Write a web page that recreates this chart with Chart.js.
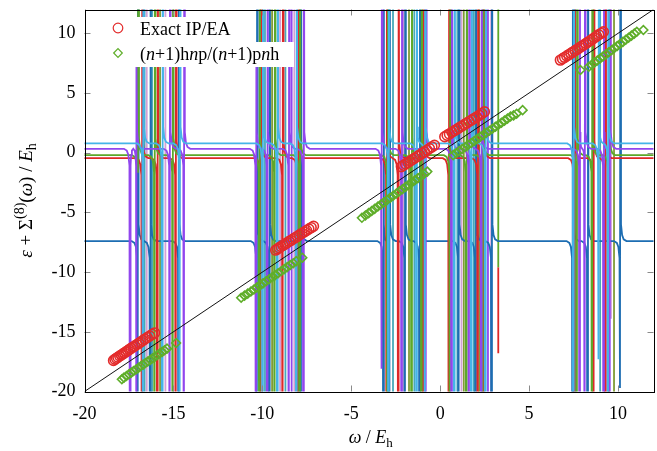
<!DOCTYPE html>
<html>
<head>
<meta charset="utf-8">
<script src="https://cdn.jsdelivr.net/npm/chart.js@4.4.1/dist/chart.umd.min.js"></script>
<style>
  html, body { margin: 0; padding: 0; background: #fff; overflow: hidden; }
  #wrap { width: 657px; height: 451px; overflow: hidden; }
</style>
</head>
<body>
<div id="wrap"><canvas id="chart" width="660" height="451"></canvas></div>
<script>
const serif = '"Liberation Serif", "Times New Roman", serif';

const xTicks = [-20, -15, -10, -5, 0, 5, 10];
const yTicks = [-20, -15, -10, -5, 0, 5, 10];

// exact IP/EA solutions (red circles)
const exactX = [
  -18.37, -18.29, -18.2, -18.12, -18.02, -17.93, -17.85, -17.76, -17.66, -17.57, -17.47, -17.38,
  -17.27, -17.17, -17.06, -16.95, -16.84, -16.72, -16.6, -16.47, -16.33, -16.2, -16.06,
  -9.25, -9.15, -9.05, -8.95, -8.84, -8.73, -8.62, -8.5, -8.39, -8.27, -8.15, -8.02, -7.9,
  -7.77, -7.64, -7.51, -7.38, -7.25, -7.12,
  -2.18, -2.06, -1.94, -1.81, -1.68, -1.55, -1.42, -1.28, -1.15, -1.01, -0.88, -0.74, -0.6,
  -0.46, -0.32, 0.26, 0.39, 0.52, 0.66, 0.8, 0.94, 1.07, 1.21, 1.35, 1.49, 1.63, 1.77, 1.91,
  2.05, 2.2, 2.34, 2.49,
  6.76, 6.88, 7.0, 7.12, 7.24, 7.36, 7.48, 7.6, 7.72, 7.84, 7.96, 8.08, 8.2, 8.32, 8.44, 8.56,
  8.68, 8.8, 8.92, 9.05, 9.18
];
const exactY = [
  -17.4, -17.3, -17.22, -17.13, -17.03, -16.95, -16.86, -16.77, -16.67, -16.58, -16.47, -16.38,
  -16.28, -16.18, -16.07, -15.96, -15.85, -15.73, -15.61, -15.48, -15.35, -15.22, -15.09,
  -8.16, -8.06, -7.96, -7.86, -7.76, -7.66, -7.55, -7.44, -7.34, -7.22, -7.11, -6.99, -6.87,
  -6.75, -6.63, -6.51, -6.39, -6.27, -6.16,
  -1.17, -1.05, -0.94, -0.82, -0.69, -0.57, -0.44, -0.31, -0.18, -0.05, 0.08, 0.22, 0.35,
  0.49, 0.63, 1.34, 1.46, 1.58, 1.71, 1.84, 1.97, 2.09, 2.22, 2.35, 2.48, 2.61, 2.74, 2.87,
  3.0, 3.14, 3.28, 3.43,
  7.76, 7.88, 7.99, 8.11, 8.22, 8.34, 8.45, 8.57, 8.68, 8.8, 8.92, 9.03, 9.15, 9.27, 9.39, 9.51,
  9.63, 9.76, 9.88, 10.0, 10.13
];

// (n+1)hnp/(n+1)pnh solutions (green diamonds)
const hnpX = [
  -17.9, -17.78, -17.64, -17.5, -17.37, -17.24, -17.1, -16.97, -16.84, -16.7, -16.57, -16.44,
  -16.3, -16.17, -16.04, -15.9, -15.77, -15.63, -15.5, -15.36, -14.85,
  -11.19, -11.0, -10.82, -10.64, -10.47, -10.3, -10.13, -9.96, -9.79, -9.62, -9.45, -9.28,
  -9.11, -8.94, -8.77, -8.6, -8.43, -8.26, -8.09, -7.75,
  -4.4, -4.2, -4.02, -3.85, -3.68, -3.5, -3.33, -3.16, -2.98, -2.81, -2.64, -2.46, -2.29,
  -2.12, -1.94, -1.77, -1.6, -1.42, -1.25, -1.08, -0.9, -0.72, 0.73, 0.9, 1.07, 1.24, 1.41,
  1.58, 1.75, 1.92, 2.09, 2.26, 2.43, 2.6, 2.77, 2.94, 3.11, 3.28, 3.45, 3.62, 3.79, 3.96,
  4.13, 4.3, 4.64,
  7.89, 8.36, 8.52, 8.68, 8.84, 9.0, 9.16, 9.32, 9.48, 9.64, 9.8, 9.96, 10.12, 10.28, 10.44,
  10.6, 10.76, 10.92, 11.06, 11.43
];
const hnpY = [
  -18.97, -18.84, -18.7, -18.56, -18.42, -18.29, -18.15, -18.02, -17.89, -17.75, -17.62, -17.49,
  -17.35, -17.22, -17.09, -16.95, -16.82, -16.68, -16.55, -16.41, -15.94,
  -12.15, -11.97, -11.8, -11.62, -11.45, -11.28, -11.11, -10.94, -10.77, -10.6, -10.43, -10.26,
  -10.09, -9.92, -9.75, -9.58, -9.41, -9.25, -9.08, -8.79,
  -5.45, -5.25, -5.06, -4.88, -4.7, -4.51, -4.33, -4.15, -3.96, -3.78, -3.6, -3.41, -3.23,
  -3.05, -2.86, -2.68, -2.5, -2.31, -2.13, -1.95, -1.76, -1.58, -0.2, -0.03, 0.14, 0.31, 0.48,
  0.65, 0.82, 0.99, 1.16, 1.33, 1.5, 1.67, 1.84, 2.01, 2.18, 2.35, 2.52, 2.69, 2.86, 3.03,
  3.13, 3.27, 3.57,
  6.93, 7.2, 7.37, 7.55, 7.72, 7.9, 8.07, 8.24, 8.42, 8.59, 8.77, 8.94, 9.11, 9.29, 9.46,
  9.64, 9.81, 9.98, 10.13, 10.28
];

// self-energy curves: flat level between poles; a pole may be [x, lowEnd, highEnd]
const skyLevel = 0.78;
const skyPoles = [-16.7, -15.62, -14.64, -9.98, -9.15, -8.08, -2.9, -1.32, -0.85,
  0.8, 1.76, 2.55, 7.5, [8.92, -17.3, 40], 9.45];

const violetLevel = 0.33;
const violetPoles = [[-17.43, -40, -40], [-17.08, -40, 7.3], -15.2, -14.4,
  [-10.35, -40, 7.3], -9.72, -8.5, -7.68, [-3.28, -18.1, 40], -2.16, -0.8,
  0.65, 1.63, 2.32, 7.85, 8.14, 9.2, 9.55];

const greenLevel = -0.2;
const greenPoles = [[-16.98, -1.1, 40], -16.05, -15.03, -10.16, -9.3, -7.9,
  -2.95, -1.6, -1.05, 0.56, 1.48, 2.4, 7.7, 8.55, 9.5];

const redLevel = -0.45;
const redPoles = [-16.76, -15.9, -14.86, -10.08, -8.85, -7.98, -3.0, -2.35, -0.95,
  0.5, 2.13, 2.45, 7.55, 8.64, 9.29];

const blueLevel = -7.4;
const bluePoles = [-17.0, -16.3, -14.7, -10.3, -9.6, -7.84, -3.18, -2.85, -1.97, -1.15,
  1.05, 2.0, 2.9, 7.46, 8.3, [10.13, -19.7, 40]];

// remaining branches seen only as near-vertical strokes: [x, from, to]
const pinkLines = [[-16.5], [-15.45], [-9.0], [-8.2], [-2.05], [1.2], [2.87], [9.35], [9.61, -13.9, 13]];
const tealLines = [[-16.62], [-16.2], [-9.85], [-8.7], [-2.65], [-1.45], [0.97], [1.9], [7.62], [9.0]];
const oliveLines = [[-15.75], [-9.45], [-1.75], [1.33], [2.2], [9.78]];
const violetLines = [[-8.35], [2.69]];
const redStubs = [[3.27, -16.8, -9.6]];
const greenStubs = [[3.27, -9.6, 13]];

const diagonal = [[-20, -20], [12, 12]];

// bend profile next to a pole: [fraction of half-width, rise in y units]
const bend = [[1, 0], [0.55, 0.15], [0.3, 0.5], [0.12, 1.4]];

function poleCurve(level, poles) {
  const list = poles.map(p => Array.isArray(p) ? p : [p, -40, 40]);
  const pts = [{ x: -21, y: level }];
  list.forEach(([p, low, high], i) => {
    const prev = i > 0 ? list[i - 1][0] : -Infinity;
    const next = i < list.length - 1 ? list[i + 1][0] : Infinity;
    const wl = Math.min(0.35, (p - prev) / 2);
    const wr = Math.min(0.35, (next - p) / 2);
    const sl = Math.sign(low - level), sr = Math.sign(high - level);
    bend.forEach(([f, d]) => pts.push({ x: p - wl * f, y: level + sl * d }));
    pts.push({ x: p - 0.015, y: low });
    pts.push({ x: p + 0.015, y: high });
    bend.slice().reverse().forEach(([f, d]) => pts.push({ x: p + wr * f, y: level + sr * d }));
  });
  pts.push({ x: 13, y: level });
  return pts;
}

function strokes(lines) {
  const pts = [];
  lines.forEach(([x, a = -21, b = 13]) => {
    pts.push({ x, y: a }, { x, y: b }, { x, y: null });
  });
  return pts;
}

function lineSet(data, color, width = 1.8) {
  return { data, showLine: true, spanGaps: false, borderColor: color, borderWidth: width,
    pointRadius: 0, pointHoverRadius: 0, fill: false, tension: 0 };
}

const colors = {
  exact: '#e32b2b', hnp: '#5fae2a',
  sky: '#45b4e8', violet: '#9146ee', green: '#5ca82a', red: '#de2828', blue: '#1d6db2',
  pink: '#d2a0d6', teal: '#48a9b8', olive: '#809b36'
};

const datasets = [
  { data: exactX.map((x, i) => ({ x, y: exactY[i] })), pointStyle: 'circle', pointRadius: 4.9,
    borderColor: colors.exact, backgroundColor: 'rgba(0,0,0,0)', borderWidth: 1.6, showLine: false },
  { data: hnpX.map((x, i) => ({ x, y: hnpY[i] })), pointStyle: 'rectRot', pointRadius: 4.4,
    borderColor: colors.hnp, backgroundColor: 'rgba(0,0,0,0)', borderWidth: 1.6, showLine: false },
  lineSet(diagonal.map(([x, y]) => ({ x, y })), '#111', 1),
  lineSet(poleCurve(skyLevel, skyPoles), colors.sky),
  lineSet(poleCurve(violetLevel, violetPoles), colors.violet),
  lineSet(poleCurve(greenLevel, greenPoles), colors.green),
  lineSet(poleCurve(redLevel, redPoles), colors.red),
  lineSet(poleCurve(blueLevel, bluePoles), colors.blue),
  lineSet(strokes(greenStubs), colors.green),
  lineSet(strokes(redStubs), colors.red),
  lineSet(strokes(violetLines), colors.violet),
  lineSet(strokes(pinkLines), colors.pink),
  lineSet(strokes(tealLines), colors.teal),
  lineSet(strokes(oliveLines), colors.olive)
];

function drawRuns(ctx, runs, x, y, size, align) {
  const fontFor = r => `${r.i ? 'italic ' : ''}${(r.sup || r.sub) ? Math.round(size * 0.72) : size}px ${serif}`;
  let total = 0;
  runs.forEach(r => { ctx.font = fontFor(r); r.w = ctx.measureText(r.t).width; total += r.w; });
  let cx = align === 'center' ? x - total / 2 : x;
  ctx.textAlign = 'left';
  ctx.textBaseline = 'alphabetic';
  ctx.fillStyle = '#000';
  runs.forEach(r => {
    ctx.font = fontFor(r);
    const dy = r.sup ? -size * 0.4 : r.sub ? size * 0.22 : 0;
    ctx.fillText(r.t, cx, y + dy);
    cx += r.w;
  });
}

const xTitle = [{ t: 'ω', i: true }, { t: ' / ' }, { t: 'E', i: true }, { t: 'h', sub: true }];
const yTitle = [{ t: 'ε', i: true }, { t: ' + ' }, { t: 'Σ' }, { t: '(8)', sup: true }, { t: '(' },
  { t: 'ω', i: true }, { t: ')' }, { t: ' / ' }, { t: 'E', i: true }, { t: 'h', sub: true }];
const legendRows = [
  { style: 'circle', color: colors.exact, runs: [{ t: 'Exact IP/EA' }] },
  { style: 'rectRot', color: colors.hnp, runs: [{ t: '(' }, { t: 'n', i: true }, { t: '+1)h' },
    { t: 'n', i: true }, { t: 'p/(' }, { t: 'n', i: true }, { t: '+1)p' }, { t: 'n', i: true }, { t: 'h' }] }
];

const decor = {
  id: 'decor',
  afterDatasetsDraw(chart) {
    const { ctx, chartArea: ca, scales } = chart;
    ctx.save();
    // inward tick marks on all four sides
    ctx.strokeStyle = '#8a8a8a';
    ctx.lineWidth = 1;
    ctx.beginPath();
    xTicks.forEach(v => {
      const px = Math.round(scales.x.getPixelForValue(v)) + 0.5;
      ctx.moveTo(px, ca.bottom); ctx.lineTo(px, ca.bottom - 6);
      ctx.moveTo(px, ca.top); ctx.lineTo(px, ca.top + 6);
    });
    yTicks.forEach(v => {
      const py = Math.round(scales.y.getPixelForValue(v)) + 0.5;
      ctx.moveTo(ca.left, py); ctx.lineTo(ca.left + 6, py);
      ctx.moveTo(ca.right, py); ctx.lineTo(ca.right - 6, py);
    });
    ctx.stroke();
    // frame
    ctx.strokeStyle = '#000';
    const l = Math.round(ca.left) + 0.5, r = Math.round(ca.right) + 0.5;
    const t = Math.round(ca.top) + 0.5, b = Math.round(ca.bottom) + 0.5;
    ctx.strokeRect(l, t, r - l, b - t);

    // key with opaque row backgrounds
    ctx.fillStyle = '#fff';
    ctx.fillRect(100, 17, 141, 25);
    ctx.fillRect(100, 42, 194, 25);
    legendRows.forEach((row, i) => {
      const cy = 28 + i * 25;
      ctx.strokeStyle = row.color;
      ctx.fillStyle = 'rgba(0,0,0,0)';
      ctx.lineWidth = 1.2;
      Chart.helpers.drawPoint(ctx, { pointStyle: row.style, radius: row.style === 'circle' ? 4.8 : 4.3,
        borderWidth: 1.2, rotation: 0 }, 118, cy);
      drawRuns(ctx, row.runs, 140, cy + 7, 18, 'left');
    });

    // axis titles
    drawRuns(ctx, xTitle, (ca.left + 657) / 2, 443, 18, 'center');
    ctx.translate(32, (ca.top + ca.bottom) / 2);
    ctx.rotate(-Math.PI / 2);
    drawRuns(ctx, yTitle, 0, 0, 19, 'center');
    ctx.restore();
  }
};

new Chart(document.getElementById('chart'), {
  type: 'scatter',
  data: { datasets },
  options: {
    responsive: false,
    animation: false,
    devicePixelRatio: 1,
    layout: { padding: { top: 9.5, right: 2, left: 0, bottom: 0 } },
    plugins: { legend: { display: false }, tooltip: { enabled: false } },
    scales: {
      x: {
        type: 'linear', min: -20, max: 12,
        grid: { display: false, drawTicks: false },
        border: { display: false },
        ticks: { font: { family: serif, size: 18 }, color: '#000', padding: 12, maxRotation: 0,
          autoSkip: false, callback: v => String(v) },
        afterBuildTicks: s => { s.ticks = xTicks.map(v => ({ value: v })); },
        afterFit: s => { s.height = 59.5; s.paddingLeft = 0; s.paddingRight = 0; }
      },
      y: {
        type: 'linear', min: -20, max: 12,
        grid: { display: false, drawTicks: false },
        border: { display: false },
        ticks: { font: { family: serif, size: 18 }, color: '#000', padding: 9,
          autoSkip: false, callback: v => String(v) },
        afterBuildTicks: s => { s.ticks = yTicks.map(v => ({ value: v })); },
        afterFit: s => { s.width = 84.5; s.paddingTop = 0; s.paddingBottom = 0; }
      }
    }
  },
  plugins: [decor]
});
</script>
</body>
</html>
